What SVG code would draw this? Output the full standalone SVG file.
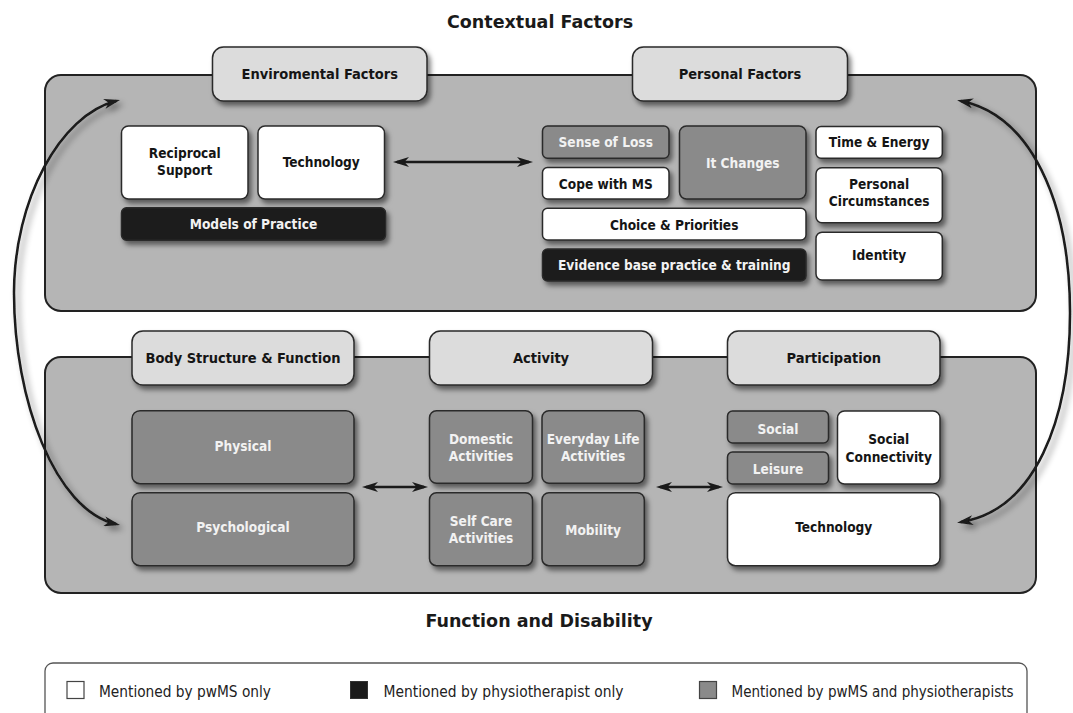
<svg xmlns="http://www.w3.org/2000/svg" width="1073" height="713" viewBox="0 0 1073 713">
  <defs>
    <style>
      .panel { fill: #b5b5b5; stroke: #222; stroke-width: 2; }
      .tab { fill: #dcdcdc; stroke: #2a2a2a; stroke-width: 1.5; filter: url(#shadow); }
      .box { stroke: #2a2a2a; stroke-width: 1.5; filter: url(#shadow); }
      .white { fill: #ffffff; }
      .grey { fill: #8a8a8a; }
      .black { fill: #1b1b1b; }
      text { font-family: "DejaVu Sans Condensed", "DejaVu Sans", sans-serif; font-stretch: condensed; font-weight: bold; font-size: 13.6px; text-anchor: middle; }
      .dark { fill: #151515; }
      .light { fill: #f2f2f2; }
      .tabtxt { font-size: 14.5px; fill: #151515; }
      .title { font-family: "DejaVu Sans", sans-serif; font-stretch: normal; font-size: 17.5px; fill: #1a1a1a; }
      .legtxt { font-weight: normal; font-size: 15.5px; text-anchor: start; fill: #222; }
      .link { fill: none; stroke: #1a1a1a; stroke-width: 2.5; marker-start: url(#head); marker-end: url(#head); }
      .arc { filter: url(#arcshadow); }
    </style>
    <filter id="shadow" x="-15%" y="-20%" width="140%" height="160%">
      <feDropShadow dx="3" dy="4" stdDeviation="2.5" flood-color="#000" flood-opacity="0.5"/>
    </filter>
    <filter id="arcshadow" x="-30%" y="-10%" width="170%" height="130%">
      <feDropShadow dx="4" dy="4" stdDeviation="3" flood-color="#000" flood-opacity="0.45"/>
    </filter>
    <marker id="head" viewBox="0 0 16 10" refX="12" refY="5" markerWidth="16" markerHeight="10" markerUnits="userSpaceOnUse" orient="auto-start-reverse">
      <path d="M0,0 L16,5 L0,10 L4.5,5 Z" fill="#1a1a1a"/>
    </marker>
  </defs>

  <rect width="1073" height="713" fill="#ffffff"/>

  <!-- headings -->
  <text class="title" x="540" y="28">Contextual Factors</text>
  <text class="title" x="539" y="627">Function and Disability</text>

  <!-- contextual factors panel -->
  <g id="contextual-panel">
    <rect class="panel" x="45" y="75" width="991" height="236" rx="16"/>
  </g>
  <!-- function and disability panel -->
  <g id="function-panel">
    <rect class="panel" x="45" y="357" width="991" height="236" rx="16"/>
  </g>

  <!-- connectors -->
  <g id="connectors">
    <path class="link" d="M397,162 H529"/>
    <path class="link" d="M366,487 H424"/>
    <path class="link" d="M660,487 H719"/>
    <g class="arc">
      <path class="link" d="M116,101 C60,115 14,200 14,293 C14,400 55,510 116,524"/>
      <path class="link" d="M961,101 C1030,115 1070,200 1070,313 C1070,420 1035,510 961,522"/>
    </g>
  </g>

  <!-- section tabs -->
  <g id="tab-environmental">
    <rect class="tab" x="212.5" y="47" width="214.5" height="54" rx="11"/>
    <text class="tabtxt" x="319.75" y="78.5">Enviromental Factors</text>
  </g>
  <g id="tab-personal">
    <rect class="tab" x="632.5" y="47" width="215" height="54" rx="11"/>
    <text class="tabtxt" x="740" y="78.5">Personal Factors</text>
  </g>
  <g id="tab-body">
    <rect class="tab" x="132" y="331" width="222" height="54" rx="11"/>
    <text class="tabtxt" x="243" y="363">Body Structure &amp; Function</text>
  </g>
  <g id="tab-activity">
    <rect class="tab" x="429.5" y="331" width="223" height="54" rx="11"/>
    <text class="tabtxt" x="541" y="363">Activity</text>
  </g>
  <g id="tab-participation">
    <rect class="tab" x="727.5" y="331" width="212.5" height="54" rx="11"/>
    <text class="tabtxt" x="833.75" y="363">Participation</text>
  </g>

  <!-- environmental factors -->
  <g id="reciprocal-support">
    <rect class="box white" x="121.5" y="126" width="126.5" height="73" rx="7"/>
    <text class="dark" x="184.75" y="157.7">Reciprocal</text>
    <text class="dark" x="184.75" y="175.3">Support</text>
  </g>
  <g id="technology-env">
    <rect class="box white" x="258" y="126" width="126.5" height="73" rx="7"/>
    <text class="dark" x="321.25" y="166.5">Technology</text>
  </g>
  <g id="models-of-practice">
    <rect class="box black" x="121.5" y="207.7" width="264" height="32.5" rx="5"/>
    <text class="light" x="253.5" y="228.5">Models of Practice</text>
  </g>

  <!-- personal factors -->
  <g id="sense-of-loss">
    <rect class="box grey" x="542.5" y="126" width="126.5" height="32.3" rx="5"/>
    <text class="light" x="605.75" y="147.3">Sense of Loss</text>
  </g>
  <g id="cope-with-ms">
    <rect class="box white" x="542.5" y="167.5" width="126.5" height="31.5" rx="5"/>
    <text class="dark" x="605.75" y="188.5">Cope with MS</text>
  </g>
  <g id="it-changes">
    <rect class="box grey" x="679.5" y="126" width="126.5" height="73" rx="7"/>
    <text class="light" x="742.75" y="167.5">It Changes</text>
  </g>
  <g id="choice-priorities">
    <rect class="box white" x="542.5" y="208.3" width="263.5" height="31.7" rx="5"/>
    <text class="dark" x="674.25" y="229.5">Choice &amp; Priorities</text>
  </g>
  <g id="evidence-base">
    <rect class="box black" x="542.5" y="249" width="263.5" height="32" rx="5"/>
    <text class="light" x="674.25" y="270">Evidence base practice &amp; training</text>
  </g>
  <g id="time-energy">
    <rect class="box white" x="816" y="126.5" width="126.3" height="31.8" rx="5"/>
    <text class="dark" x="879.15" y="147">Time &amp; Energy</text>
  </g>
  <g id="personal-circumstances">
    <rect class="box white" x="816" y="167.7" width="126.3" height="55" rx="6"/>
    <text class="dark" x="879.15" y="188.5">Personal</text>
    <text class="dark" x="879.15" y="206">Circumstances</text>
  </g>
  <g id="identity">
    <rect class="box white" x="816" y="232.3" width="126.3" height="47.7" rx="6"/>
    <text class="dark" x="879.15" y="259.5">Identity</text>
  </g>

  <!-- body structure & function -->
  <g id="physical">
    <rect class="box grey" x="132" y="410.7" width="222" height="73" rx="8"/>
    <text class="light" x="243" y="450.5">Physical</text>
  </g>
  <g id="psychological">
    <rect class="box grey" x="132" y="492.7" width="222" height="73" rx="8"/>
    <text class="light" x="243" y="532">Psychological</text>
  </g>

  <!-- activity -->
  <g id="domestic-activities">
    <rect class="box grey" x="429.5" y="410.7" width="103" height="72.6" rx="7"/>
    <text class="light" x="481" y="443.5">Domestic</text>
    <text class="light" x="481" y="461.3">Activities</text>
  </g>
  <g id="everyday-life-activities">
    <rect class="box grey" x="542" y="410.7" width="102.3" height="72.6" rx="7"/>
    <text class="light" x="593.15" y="443.5">Everyday Life</text>
    <text class="light" x="593.15" y="461.3">Activities</text>
  </g>
  <g id="self-care-activities">
    <rect class="box grey" x="429.5" y="492.7" width="103" height="73" rx="7"/>
    <text class="light" x="481" y="525.7">Self Care</text>
    <text class="light" x="481" y="543">Activities</text>
  </g>
  <g id="mobility">
    <rect class="box grey" x="542" y="492.7" width="102.3" height="73" rx="7"/>
    <text class="light" x="593.15" y="534.5">Mobility</text>
  </g>

  <!-- participation -->
  <g id="social">
    <rect class="box grey" x="727.5" y="411" width="101" height="32" rx="5"/>
    <text class="light" x="778" y="433.5">Social</text>
  </g>
  <g id="leisure">
    <rect class="box grey" x="727.5" y="452" width="101" height="32" rx="5"/>
    <text class="light" x="778" y="474.3">Leisure</text>
  </g>
  <g id="social-connectivity">
    <rect class="box white" x="837.5" y="411" width="102.5" height="73" rx="7"/>
    <text class="dark" x="888.75" y="444.3">Social</text>
    <text class="dark" x="888.75" y="461.8">Connectivity</text>
  </g>
  <g id="technology-participation">
    <rect class="box white" x="727.5" y="492.7" width="212.5" height="73" rx="8"/>
    <text class="dark" x="833.75" y="531.5">Technology</text>
  </g>

  <!-- legend -->
  <g id="legend">
    <rect x="45" y="663" width="982" height="62" rx="8" fill="#ffffff" stroke="#555" stroke-width="1.3"/>
    <rect x="67" y="681.5" width="17" height="17" fill="#ffffff" stroke="#444" stroke-width="1.2"/>
    <text class="legtxt" x="99" y="697" textLength="172" lengthAdjust="spacingAndGlyphs">Mentioned by pwMS only</text>
    <rect x="350.5" y="681.5" width="17" height="17" fill="#1b1b1b" stroke="#333" stroke-width="1"/>
    <text class="legtxt" x="383.5" y="697" textLength="240" lengthAdjust="spacingAndGlyphs">Mentioned by physiotherapist only</text>
    <rect x="699.5" y="681.5" width="17" height="17" fill="#8a8a8a" stroke="#444" stroke-width="1.2"/>
    <text class="legtxt" x="731.5" y="697" textLength="282" lengthAdjust="spacingAndGlyphs">Mentioned by pwMS and physiotherapists</text>
  </g>
</svg>
